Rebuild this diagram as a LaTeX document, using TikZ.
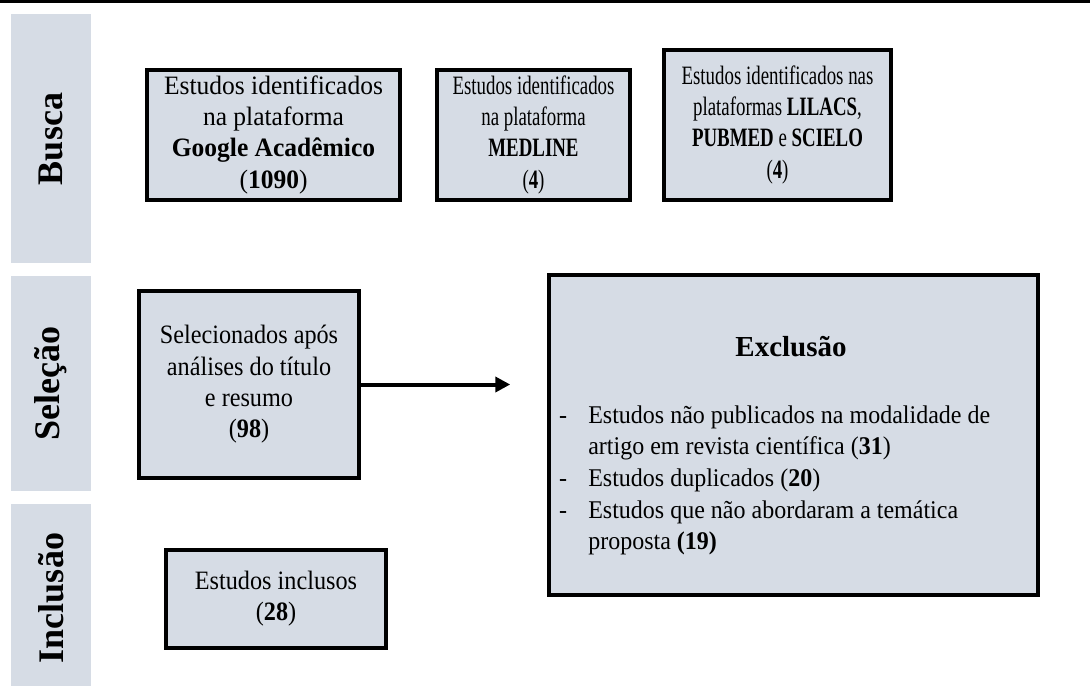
\documentclass[tikz,border=0pt]{standalone}
\usepackage{fontspec}
\usepackage{graphicx}
\setmainfont{Liberation Serif}
\usetikzlibrary{arrows.meta}
\definecolor{boxfill}{HTML}{D6DCE5}
\definecolor{barfill}{HTML}{D6DCE5}
\newcommand{\sqz}[1]{\scalebox{0.74}[1.04]{\begin{tabular}{@{}c@{}}#1\end{tabular}}}
\newcommand{\stk}[1]{\scalebox{1}[1.04]{\begin{tabular}{@{}c@{}}#1\end{tabular}}}
\tikzset{
  flowbox/.style={draw=black, line width=3.5pt, fill=boxfill, rectangle, inner sep=0pt,
    font=\fontsize{25.5}{30}\selectfont, align=center},
  sidebar/.style={fill=barfill, draw=none, rectangle, inner sep=0pt},
  sidelabel/.style={rotate=90, font=\fontsize{36}{40}\selectfont\bfseries},
  flowarrow/.style={line width=4pt, -{Triangle[length=15pt,width=15pt]}},
}
\begin{document}
\begin{tikzpicture}[x=1pt,y=-1pt]
\useasboundingbox (0,0) rectangle (1090,686);
% top rule
\draw[line width=3pt] (0,1.5) -- (1090,1.5);
% side bars
\node[sidebar, minimum width=80pt, minimum height=249pt] (barB) at (51,138.5) {};
\node[sidebar, minimum width=80pt, minimum height=215pt] (barS) at (51,383.5) {};
\node[sidebar, minimum width=80pt, minimum height=182pt] (barI) at (51,595) {};
\node[sidelabel] (lblB) at (51,139) {Busca};
\node[sidelabel] (lblS) at (51,383.5) {Seleção};
\node[sidelabel] (lblI) at (51,598) {Inclusão};
% search boxes
\node[flowbox, minimum width=253pt, minimum height=130pt] (b1) at (273.5,135)
  {\stk{Estudos identificados\\na plataforma\\\textbf{Google Acadêmico}\\(\textbf{1090})}};
\node[flowbox, minimum width=193pt, minimum height=130pt] (b2) at (533.5,135)
  {\sqz{Estudos identificados\\na plataforma\\\textbf{MEDLINE}\\(\textbf{4})}};
\node[flowbox, minimum width=227pt, minimum height=150pt] (b3) at (777.5,125)
  {\sqz{Estudos identificados nas\\plataformas \textbf{LILACS},\\\textbf{PUBMED} e \textbf{SCIELO}\\(\textbf{4})}};
% selection
\node[flowbox, minimum width=220pt, minimum height=187pt] (sel) at (249,384.5)
  {\scalebox{0.95}[1.04]{\begin{tabular}{@{}c@{}}Selecionados após\\análises do título\\e resumo\\(\textbf{98})\end{tabular}}};
% inclusion
\node[flowbox, minimum width=220pt, minimum height=98pt] (inc) at (276,599)
  {\scalebox{0.95}[1.04]{\begin{tabular}{@{}c@{}}Estudos inclusos\\(\textbf{28})\end{tabular}}};
% exclusion
\node[flowbox, minimum width=489pt, minimum height=320pt] (exc) at (793.5,435) {};
\node[font=\fontsize{29}{34}\selectfont\bfseries, inner sep=0pt] (exct) at (791,347) {Exclusão};
\node[anchor=north west, inner sep=0pt, font=\fontsize{25}{31}\selectfont] (excl) at (559,401)
  {\scalebox{0.96}[1.02]{\begin{tabular}{@{}l@{\hspace{22pt}}l@{}}
  - & Estudos não publicados na modalidade de\\
    & artigo em revista científica (\textbf{31})\\
  - & Estudos duplicados (\textbf{20})\\
  - & Estudos que não abordaram a temática\\
    & proposta \textbf{(19)}
  \end{tabular}}};
% arrow
\draw[flowarrow, shorten >=37pt] (sel.east) -- (sel.east -| exc.west);
\end{tikzpicture}
\end{document}
